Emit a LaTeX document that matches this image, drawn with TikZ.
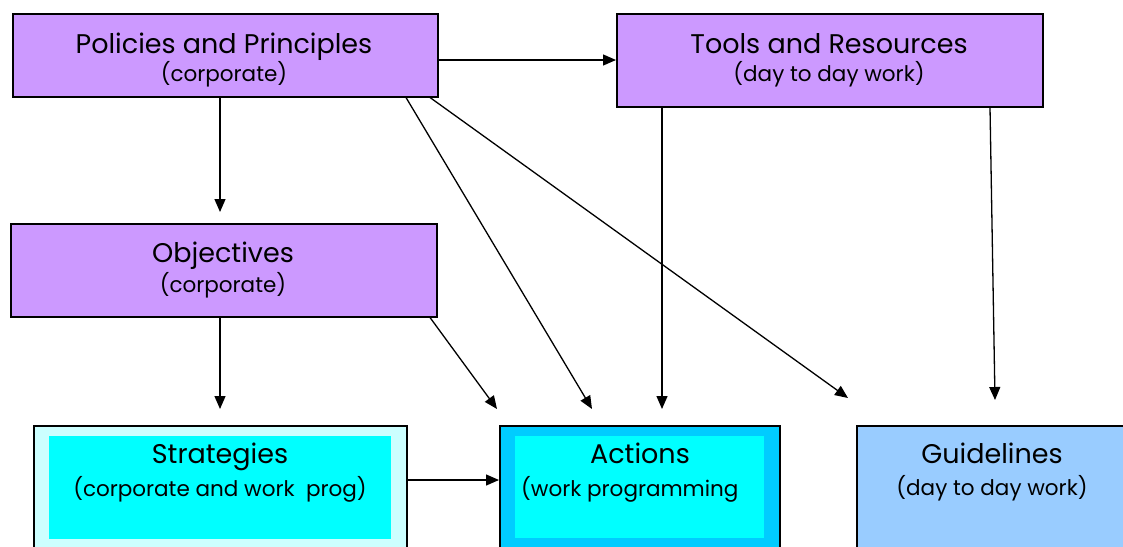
\documentclass[tikz,border=0pt]{standalone}
\usepackage{fontspec}
\setmainfont{Poppins}
\usetikzlibrary{arrows.meta}
\definecolor{lilac}{HTML}{CC99FF}
\definecolor{paleaqua}{HTML}{CCFFFF}
\definecolor{aqua}{HTML}{00FFFF}
\definecolor{skyblue}{HTML}{00CCFF}
\definecolor{lightblue}{HTML}{99CCFF}
\tikzset{
  box/.style={draw=black, line width=1.5pt, anchor=north west, inner sep=0pt},
  inbox/.style={draw=none, anchor=north west, inner sep=0pt},
  title/.style={anchor=base, inner sep=0pt, font=\fontsize{27}{31}\selectfont},
  sub/.style={anchor=base, inner sep=0pt, font=\fontsize{21.5}{25}\selectfont},
  conn/.style={line width=1.3pt, -{Triangle[length=13pt,width=11pt]}},
}
\begin{document}
\begin{tikzpicture}[x=1pt,y=-1pt]
\useasboundingbox (0,0) rectangle (1123,546);
\clip (0,0) rectangle (1123,546);
% boxes
\node[box, fill=lilac, minimum width=425pt, minimum height=83pt] (pol) at (12,13) {};
\node[box, fill=lilac, minimum width=426pt, minimum height=93pt] (tool) at (616,13) {};
\node[box, fill=lilac, minimum width=426pt, minimum height=93pt] (obj) at (10,223) {};
\node[box, fill=paleaqua, minimum width=373pt, minimum height=140pt] (str) at (33,425) {};
\node[inbox, fill=aqua, minimum width=342pt, minimum height=103pt] (strin) at (49,436) {};
\node[box, fill=skyblue, minimum width=280pt, minimum height=140pt] (act) at (499,425) {};
\node[inbox, fill=aqua, minimum width=249pt, minimum height=102pt] (actin) at (515,436) {};
\node[box, fill=lightblue, minimum width=280pt, minimum height=140pt] (gui) at (856,425) {};
% texts
\node[title] (polT) at (224,53) {Policies and Principles};
\node[sub] (polS) at (224,81) {(corporate)};
\node[title] (toolT) at (829,53) {Tools and Resources};
\node[sub] (toolS) at (829,81) {(day to day work)};
\node[title] (objT) at (223,262) {Objectives};
\node[sub] (objS) at (223,292) {(corporate)};
\node[title] (strT) at (220,463) {Strategies};
\node[sub] (strS) at (220,496) {(corporate and work\ \ prog)};
\node[title] (actT) at (640,463) {Actions};
\node[sub, anchor=base west] (actS) at (521,496) {(work programming};
\node[title] (guiT) at (992,463) {Guidelines};
\node[sub] (guiS) at (992,495) {(day to day work)};
% arrow end points
\coordinate (tObj) at (220,212);
\coordinate (tAct1) at (497,409);
\coordinate (tAct2) at (592,409);
\coordinate (tAct3) at (662,409);
\coordinate (tGui1) at (848,398);
\coordinate (tGui2) at (995,400);
\coordinate (tStr) at (220,409);
% connectors
\draw[conn] (pol.east |- 0,60) -- (tool.west |- 0,60);
\draw[conn] (pol.south -| 220,0) -- (tObj);
\draw[conn] (pol.south -| 406,0) -- (tAct2);
\draw[conn] (pol.south -| 430,0) -- (tGui1);
\draw[conn] (tool.south -| 662,0) -- (tAct3);
\draw[conn] (tool.south -| 990,0) -- (tGui2);
\draw[conn] (obj.south -| 220,0) -- (tStr);
\draw[conn] (obj.south -| 430,0) -- (tAct1);
\draw[conn] (str.east |- 0,480) -- (act.west |- 0,480);
\end{tikzpicture}
\end{document}
